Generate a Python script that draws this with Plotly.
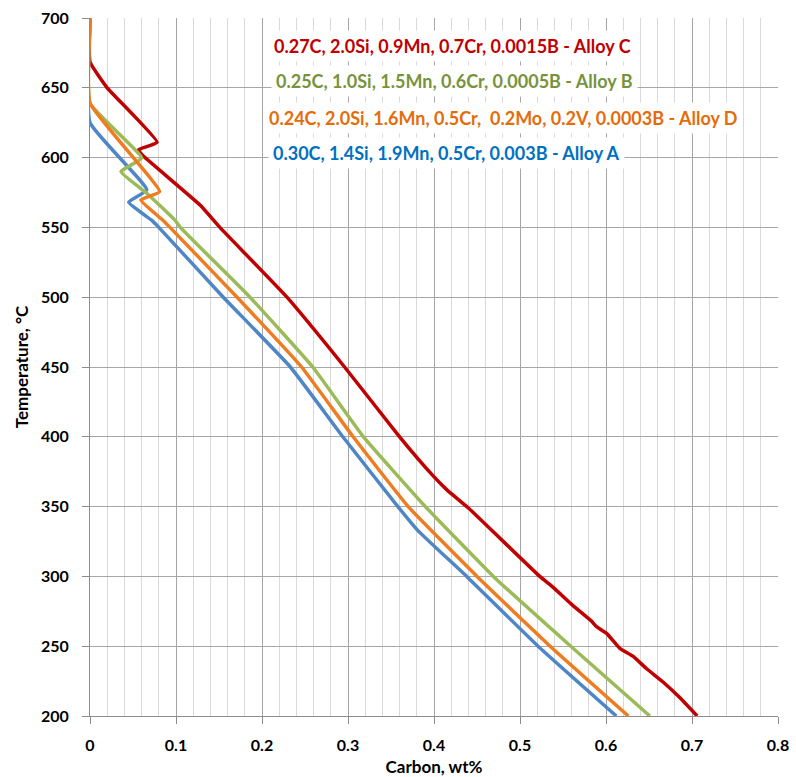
import plotly.graph_objects as go

# Carbon content (wt%) vs temperature (°C) for four alloys
temp_a = [700, 625, 577, 568, 555, 550, 500, 450, 400, 350, 333, 300, 250, 200]
carbon_a = [0, 0, 0.066, 0.045, 0.072, 0.080, 0.155, 0.233, 0.294, 0.358, 0.381, 0.438, 0.521, 0.612]

temp_b = [700, 639, 599.7, 590, 574.5, 555, 550, 500, 450, 400, 350, 300, 250, 200]
carbon_b = [0, 0, 0.060, 0.036, 0.066, 0.099, 0.105, 0.186, 0.259, 0.318, 0.390, 0.469, 0.559, 0.651]

temp_d = [700, 639, 575.6, 569.6, 555, 550, 500, 450, 400, 350, 300, 250, 200]
carbon_d = [0, 0, 0.081, 0.059, 0.085, 0.093, 0.171, 0.246, 0.306, 0.370, 0.450, 0.535, 0.626]

temp_c = [700, 668.5, 650, 611, 605.5, 600, 566, 550, 500, 450, 400, 372, 362, 349,
          300, 292, 280, 268, 264, 259, 248.5, 242.5, 234, 224, 213, 200]
carbon_c = [0, 0, 0.020, 0.078, 0.056, 0.064, 0.128, 0.151, 0.229, 0.296, 0.360, 0.399, 0.415, 0.440,
            0.523, 0.539, 0.560, 0.583, 0.589, 0.601, 0.616, 0.632, 0.647, 0.667, 0.686, 0.706]

labels = {
    "C": "0.27C, 2.0Si, 0.9Mn, 0.7Cr, 0.0015B - Alloy C",
    "B": "0.25C, 1.0Si, 1.5Mn, 0.6Cr, 0.0005B - Alloy B",
    "D": "0.24C, 2.0Si, 1.6Mn, 0.5Cr,  0.2Mo, 0.2V, 0.0003B - Alloy D",
    "A": "0.30C, 1.4Si, 1.9Mn, 0.5Cr, 0.003B - Alloy A",
}

line_colors = {"C": "#C00000", "A": "#4F86C6", "B": "#9BBB59", "D": "#EE7D22"}
text_colors = {"C": "#C00000", "B": "#77933C", "D": "#E46C0A", "A": "#0070C0"}

FONT = "Lato"

fig = go.Figure()
series = [("C", carbon_c, temp_c), ("A", carbon_a, temp_a),
          ("B", carbon_b, temp_b), ("D", carbon_d, temp_d)]
for key, xs, ys in series:
    fig.add_trace(go.Scatter(
        x=xs, y=ys, mode="lines", name=labels[key],
        line=dict(color=line_colors[key], width=3.5, shape="spline", smoothing=0.35),
        showlegend=False,
    ))

# Alloy labels in white boxes, stacked near the top of the plot
label_pos = [("C", 0.421, 680), ("B", 0.424, 655), ("D", 0.481, 628.4), ("A", 0.415, 603.3)]
for key, xc, yc in label_pos:
    fig.add_annotation(
        x=xc, y=yc, xref="x", yref="y", text=labels[key], showarrow=False,
        font=dict(family=FONT, size=18, color=text_colors[key], weight="bold"),
        bgcolor="white", borderpad=4, xanchor="center", yanchor="middle",
    )

tick_font = dict(family=FONT, size=16, color="#000000", weight="bold")
title_font = dict(family=FONT, size=17, color="#000000", weight="bold")

fig.update_xaxes(
    range=[0, 0.8], dtick=0.1, tick0=0, automargin=False,
    showgrid=True, gridcolor="#A6A6A6", gridwidth=1,
    minor=dict(dtick=0.02, showgrid=True, gridcolor="#D9D9D9", gridwidth=1),
    showline=True, linecolor="#8C8C8C", linewidth=1,
    ticks="outside", ticklen=7, tickcolor="#8C8C8C",
    ticklabelstandoff=8,
    tickfont=tick_font, zeroline=False,
    title=dict(text="Carbon, wt%", font=title_font, standoff=8),
)
fig.update_yaxes(
    range=[200, 700], dtick=50, tick0=200, automargin=False,
    showgrid=True, gridcolor="#A6A6A6", gridwidth=1,
    showline=True, linecolor="#8C8C8C", linewidth=1,
    ticks="outside", ticklen=7, tickcolor="#8C8C8C",
    ticklabelstandoff=10,
    tickfont=tick_font, zeroline=False,
    title=dict(text="Temperature, °C", font=title_font, standoff=8),
)

fig.update_layout(
    width=796, height=777,
    margin=dict(l=90, r=18, t=18, b=61),
    paper_bgcolor="white", plot_bgcolor="white",
    font=dict(family=FONT),
)

fig.write_html("out.html")
